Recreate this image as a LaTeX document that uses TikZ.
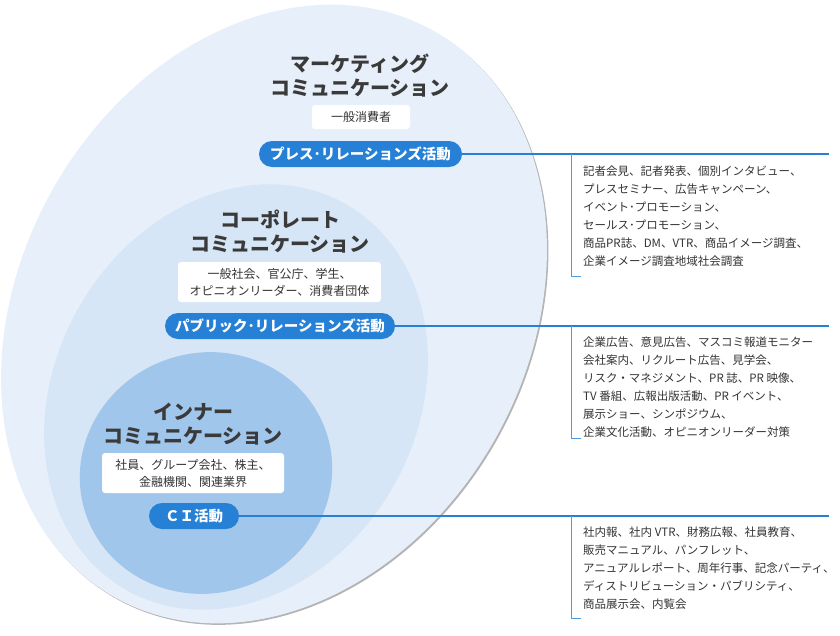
\documentclass[tikz,border=0pt]{standalone}
\usepackage{fontspec}
\setmainfont{Noto Sans CJK JP}
\usepackage{xcolor}
\usepackage{tikz}
\definecolor{outerblue}{HTML}{E7F0FA}
\definecolor{midblue}{HTML}{D6E6F6}
\definecolor{innerblue}{HTML}{A1C6EC}
\definecolor{pillblue}{HTML}{2580D6}
\definecolor{shadowgray}{HTML}{B4B4B4}
\definecolor{darkgray}{HTML}{3A3A3A}
\definecolor{textgray}{HTML}{333333}

\begin{document}
\begin{tikzpicture}[x=1pt, y=1pt, every node/.style={inner sep=0pt},
  heading/.style={font=\fontsize{20}{24}\selectfont\bfseries, text=darkgray, align=center},
  targetbox/.style={fill=white, rounded corners=3pt, text=textgray, font=\fontsize{12}{17}\selectfont, align=center},
  pill/.style={fill=pillblue, rounded corners=13pt, minimum height=26pt, text=white, font=\fontsize{14.5}{17}\selectfont\bfseries},
  desc/.style={anchor=north west, text=textgray, font=\fontsize{11.5}{18}\selectfont, align=left},
  link/.style={pillblue, line width=1.6pt},
  bracket/.style={pillblue!80, line width=0.9pt}]
  \useasboundingbox (0,0) rectangle (840,-635);

  \fill[shadowgray, rotate around={-29.5:(275.5,-315.5)}] (275.5,-315.5) ellipse [x radius=254, y radius=325];
  \fill[outerblue, rotate around={-29.5:(274,-314)}] (274,-314) ellipse [x radius=254, y radius=325];
  \fill[midblue, rotate around={-29.7:(236,-397)}] (236,-397) ellipse [x radius=181, y radius=222];
  \fill[innerblue, rotate around={20:(206,-473)}] (206,-473) ellipse [x radius=127, y radius=120];

  \node (T1) at (360,-76) [heading] {マーケティング\\コミュニケーション};
  \node (B1) at (361,-117) [targetbox, minimum width=98pt, minimum height=24pt] {一般消費者};
  \node (P1) at (360.5,-154) [pill, minimum width=203pt] {プレス･リレーションズ活動};

  \node (T2) at (280,-232) [heading] {コーポレート\\コミュニケーション};
  \node (B2) at (279.5,-282) [targetbox, minimum width=203pt, minimum height=40pt] {一般社会、官公庁、学生、\\オピニオンリーダー、消費者団体};
  \node (P2) at (280,-326) [pill, minimum width=230pt] {パブリック･リレーションズ活動};

  \node (T3) at (193,-424) [heading] {インナー\\コミュニケーション};
  \node (B3) at (193,-473) [targetbox, minimum width=182pt, minimum height=40pt] {社員、グループ会社、株主、\\金融機関、関連業界};
  \node (P3) at (194,-516) [pill, minimum width=90pt] {ＣＩ活動};

  \node (D1) at (583,-166) [desc] {記者会見、記者発表、個別インタビュー、\\プレスセミナー、広告キャンペーン、\\イベント･プロモーション、\\セールス･プロモーション、\\商品PR誌、DM、VTR、商品イメージ調査、\\企業イメージ調査地域社会調査};
  \node (D2) at (583,-337) [desc] {企業広告、意見広告、マスコミ報道モニター\\会社案内、リクルート広告、見学会、\\リスク・マネジメント、PR 誌、PR 映像、\\TV 番組、広報出版活動、PR イベント、\\展示ショー、シンポジウム、\\企業文化活動、オピニオンリーダー対策};
  \node (D3) at (583,-527) [desc] {社内報、社内 VTR、財務広報、社員教育、\\販売マニュアル、パンフレット、\\アニュアルレポート、周年行事、記念パーティ、\\ディストリビューション・パブリシティ、\\商品展示会、内覧会};

  \coordinate (E1) at (829,-154);
  \coordinate (E2) at (829,-326);
  \coordinate (E3) at (829,-516);
  \coordinate (K1) at (571,-154);
  \coordinate (K2) at (571,-326);
  \coordinate (K3) at (571,-516);
  \draw[link] (P1.east) -- (E1);
  \draw[link] (P2.east) -- (E2);
  \draw[link] (P3.east) -- (E3);
  \draw[bracket] (K1) -- ++(0,-122) -- ++(10,0);
  \draw[bracket] (K2) -- ++(0,-112) -- ++(10,0);
  \draw[bracket] (K3) -- ++(0,-102) -- ++(10,0);
\end{tikzpicture}
\end{document}
